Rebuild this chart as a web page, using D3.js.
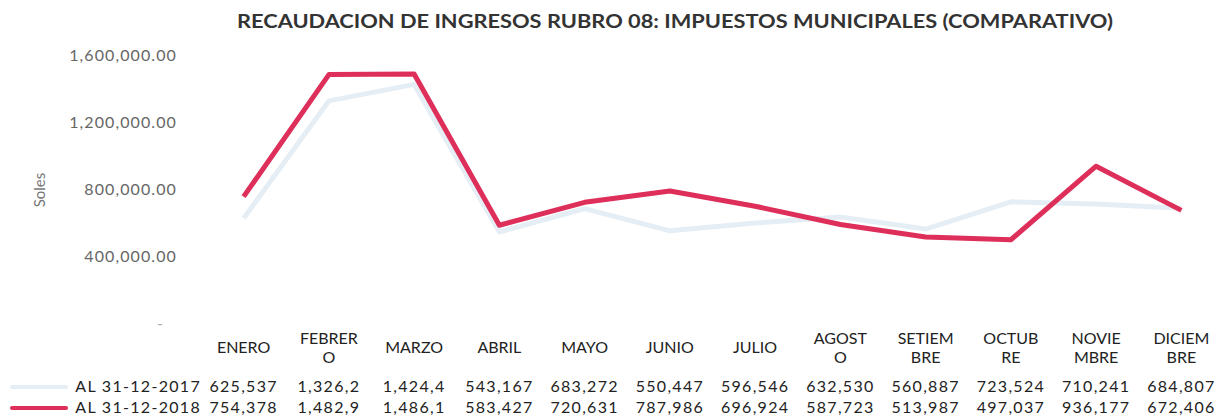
<!DOCTYPE html>
<html>
<head>
<meta charset="utf-8">
<script src="https://cdn.jsdelivr.net/npm/d3@7"></script>
<style>
  body { margin: 0; background: #fff; }
  svg { display: block; }
</style>
</head>
<body>
<script>
"use strict";

// chart data
var title = "RECAUDACION DE INGRESOS RUBRO 08: IMPUESTOS MUNICIPALES (COMPARATIVO)";
var months = ["ENERO", "FEBRER\nO", "MARZO", "ABRIL", "MAYO", "JUNIO", "JULIO", "AGOST\nO", "SETIEM\nBRE", "OCTUB\nRE", "NOVIE\nMBRE", "DICIEM\nBRE"];
var seriesNames = ["AL 31-12-2017", "AL 31-12-2018"];
var values2017 = [625537, 1326200, 1424400, 543167, 683272, 550447, 596546, 632530, 560887, 723524, 710241, 684807];
var values2018 = [754378, 1482900, 1486100, 583427, 720631, 787986, 696924, 587723, 513987, 497037, 936177, 672406];
var yTicks = [0, 400000, 800000, 1200000, 1600000];

var W = 1227, H = 418;
var colors = ["#e6eef5", "#de2f5b"];

var svg = d3.select("body").append("svg").attr("width", W).attr("height", H);

//Scales
var x = d3.scaleBand().domain(d3.range(months.length)).range([201, 1224]);
var y = d3.scaleLinear().domain([0, 1600000]).range([323, 55]);

//Title
svg.append("text").attr("x", 675).attr("y", 28).attr("text-anchor", "middle")
  .attr("textLength", 876).attr("lengthAdjust", "spacingAndGlyphs")
  .style("font-family", "Lato").style("font-weight", "bold").style("font-size", "19px")
  .style("fill", "#333").text(title);

//Y axis
var yAxis = d3.axisLeft(y).tickValues(yTicks).tickSize(0).tickPadding(0)
  .tickFormat(function (d) { return d === 0 ? "-" : d3.format(",.2f")(d); });
var gy = svg.append("g").attr("transform", "translate(177,0)").call(yAxis);
gy.select(".domain").remove();
gy.selectAll("text").style("font-family", "Lato").style("font-size", "16px")
  .style("letter-spacing", "1.1px").style("fill", "#666");
gy.selectAll(".tick").filter(function (d) { return d === 0; }).select("text")
  .attr("x", -13).style("fill", "#aaa");

svg.append("text").attr("transform", "translate(45,190) rotate(-90)").attr("text-anchor", "middle")
  .style("font-family", "Lato").style("font-size", "15px").style("fill", "#777").text("Soles");

//Lines
var line = d3.line().x(function (d, i) { return x(i) + x.bandwidth() / 2; }).y(function (d) { return y(d); });
[values2017, values2018].forEach(function (vals, k) {
  svg.append("path").datum(vals).attr("d", line).attr("fill", "none")
    .attr("stroke", colors[k]).attr("stroke-width", 5).attr("stroke-linejoin", "round");
});

//Data table: month header
var header = svg.append("g").selectAll("text").data(months).enter().append("text")
  .attr("text-anchor", "middle")
  .style("font-family", "Lato").style("font-size", "16px").style("fill", "#222");
header.each(function (d, i) {
  var parts = d.split("\n");
  var t = d3.select(this);
  var cx = x(i) + x.bandwidth() / 2;
  if (parts.length === 1) {
    t.append("tspan").attr("x", cx).attr("y", 353).text(parts[0]);
  } else {
    t.append("tspan").attr("x", cx).attr("y", 344).text(parts[0]);
    t.append("tspan").attr("x", cx).attr("y", 363).text(parts[1]);
  }
});

//Data table: value rows (cells clip to 7 characters like the original sheet)
var cellFmt = function (v) { return d3.format(",")(v).slice(0, 7); };
[values2017, values2018].forEach(function (vals, k) {
  var rowY = k === 0 ? 392 : 413;
  svg.append("g").selectAll("text").data(vals).enter().append("text")
    .attr("x", function (d, i) { return x(i) + x.bandwidth() / 2; })
    .attr("y", rowY).attr("text-anchor", "middle")
    .style("font-family", "Lato").style("font-size", "16px").style("letter-spacing", "1.3px")
    .style("fill", "#222")
    .text(cellFmt);

  svg.append("line").attr("x1", 12).attr("x2", 66).attr("y1", rowY - 5).attr("y2", rowY - 5)
    .attr("stroke", colors[k]).attr("stroke-width", 4).attr("stroke-linecap", "round");
  svg.append("text").attr("x", 201).attr("y", rowY).attr("text-anchor", "end")
    .style("font-family", "Lato").style("font-size", "16px").style("letter-spacing", "1.3px")
    .style("fill", "#222")
    .text(seriesNames[k]);
});
</script>
</body>
</html>
